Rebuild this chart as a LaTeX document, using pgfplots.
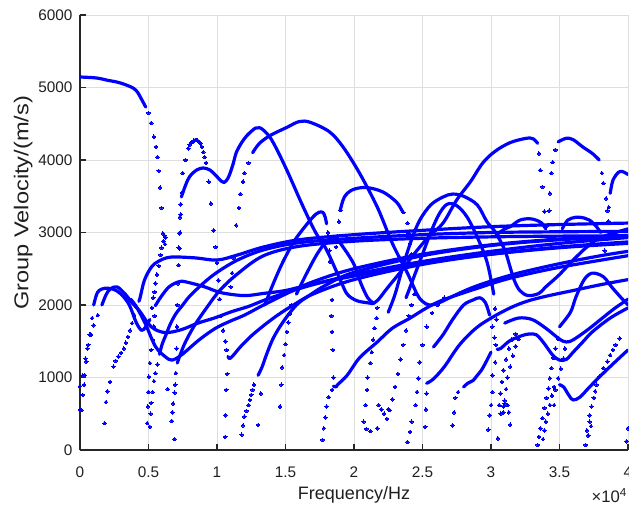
\documentclass[border=0pt]{standalone}
\usepackage{fontspec}
\setmainfont{Liberation Sans}
\newfontfamily\ylabfont[FakeStretch=1.18]{Liberation Sans}
\usepackage{pgfplots}
\pgfplotsset{compat=1.18}
\definecolor{mblue}{RGB}{0,0,255}
\pgfplotsset{
  ln/.style={no markers, color=mblue, line width=2.4pt, smooth, tension=0.55, line cap=round, line join=round},
  dt/.style={only marks, mark=*, mark size=1.35pt, color=mblue, mark options={line width=0pt, fill=mblue}},
}
\begin{document}
\begin{tikzpicture}
\begin{axis}[
  scale only axis, width=411pt, height=326.25pt,
  xmin=0, xmax=40000, ymin=0, ymax=6000,
  xtick={0,5000,10000,15000,20000,25000,30000,35000,40000},
  xticklabels={0,0.5,1,1.5,2,2.5,3,3.5,4},
  scaled x ticks=false,
  ytick={0,1000,2000,3000,4000,5000,6000},
  /pgf/number format/assume math mode=true,
  /pgf/number format/set thousands separator={},
  axis x line*=bottom, axis y line*=left,
  tick align=inside, major tick length=4.5pt,
  grid=major, grid style={line width=0.6pt, color=black!13},
  axis line style={line width=0.8pt, color=black!85},
  tick style={line width=0.8pt, color=black!85},
  tick label style={font=\fontsize{11.5}{13}\selectfont, text=black!88},
  xticklabel style={anchor=base, yshift=-20.5pt},
  yticklabel style={anchor=east, inner sep=0pt, xshift=-5.5pt},
  xlabel={Frequency/Hz},
  xlabel style={font=\fontsize{13.5}{16}\selectfont, text=black!88, at={(axis description cs:0.5,-0.1135)}, anchor=base},
  ylabel={Group Velocity/(m/s)},
  ylabel style={font=\ylabfont\fontsize{15}{18}\selectfont, text=black!88, at={(axis description cs:-0.0944,0.568)}, anchor=base},
]
% top mode
\addplot[ln] coordinates {(0,5145) (1000,5135) (1500,5122) (2000,5100) (2700,5075) (3300,5040) (3900,4990) (4200,4935) (4400,4870) (4600,4800) (4800,4730)};
\addplot[dt] coordinates {(5000,4650)(5200,4510)(5400,4320)(5550,4180)(5650,4040)(5750,3850)(5850,3620)(5950,3340)(6050,2990)(6150,2960)(6250,2930)(6100,2880)(6200,2840)(5950,2790)(5880,2690)(5750,2540)(5620,2420)(5500,2300)(5450,2180)};
% H1
\addplot[dt] coordinates {(100,550)(200,760)(300,900)(350,1030)(460,1220)(540,1400)(700,1590)(880,1820)(5250,1960)(5350,2100)};
\addplot[ln] coordinates {(1000,2000)(1200,2140)(1400,2200)(1800,2230)(2400,2220)(3000,2150)(3600,2000)(4100,1760)(4500,1650)(4800,1700)(5100,1800)};
% H2
\addplot[dt] coordinates {(0,880)(0,560)(200,1030)(400,1260)(600,1450)(800,1590)(1000,1720)(1300,1860)};
\addplot[ln] coordinates {(1600,2000)(1900,2140)(2200,2220)(2700,2250)(3300,2150)(3800,2030)(4300,1930)(5200,1700)(6200,1620)(7400,1660)(8600,1750)(9800,1820)(11100,1910)(12300,1980)(13500,2070)(14900,2160)(17000,2280)(20000,2420)(25000,2600)(30000,2740)(35000,2850)(40000,2930)};
% H3
\addplot[ln] coordinates {(3700,2080)(4100,1980)(4750,1750)(5500,1430)(6200,1290)(6700,1240)(7400,1310)(8700,1520)(9900,1680)(11000,1780)(12000,1860)(13400,2000)(15000,2150)(17000,2320)(20000,2500)(25000,2700)(30000,2830)(35000,2910)(40000,2960)};
% P1 left dots and B1
\addplot[dt] coordinates {(1800,370)(1900,660)(2000,810)(2200,940)(2450,1150)(2600,1230)(2800,1290)(3000,1340)(3200,1400)(3350,1480)(3500,1560)(3650,1650)(3800,1750)(3950,1860)(4100,1980)};
\addplot[ln] coordinates {(4300,2050)(4400,2110)(4700,2340)(5200,2520)(5700,2600)(6600,2660)(8400,2650)(10000,2620)(11500,2690)(13400,2800)(16000,2900)(20000,2970)(25000,3030)(30000,3080)(35000,3110)(40000,3130)};
% A2
\addplot[dt] coordinates {(4900,370)(4950,600)(5000,800)(5030,1010)(5100,1200)(5200,1380)(5300,1520)(5400,1700)(5450,1850)};
\addplot[ln] coordinates {(5500,1990)(5900,2110)(6500,2250)(7200,2320)(7700,2320)(9100,2250)(10300,2170)(12000,2130)(13400,2160)(15000,2200)(17000,2290)(20000,2400)(25000,2580)(30000,2700)(35000,2790)(40000,2850)};
% B3
\addplot[dt] coordinates {(5100,320)(5150,500)(5200,650)(5300,800)(5400,950)(5500,1060)(5650,1180)};
\addplot[ln] coordinates {(5800,1320)(6000,1460)(6300,1600)(6600,1740)(7000,1880)(7500,2000)(8000,2120)(9000,2300)(10000,2450)(11500,2620)(13400,2760)(16000,2860)(20000,2920)(25000,2970)(30000,3000)(35000,3010)(40000,3015)};
% B4
\addplot[dt] coordinates {(6400,840)(6700,400)(6750,520)(6800,640)(6900,790)(6950,900)(7000,1060)(6900,150)};
\addplot[ln] coordinates {(7100,1200)(7600,1450)(8300,1700)(9200,1950)(10200,2200)(11500,2430)(13400,2680)(16000,2810)(20000,2880)(25000,2920)(30000,2940)(35000,2950)(40000,2955)};
% 4300 arc (dotted)
\addplot[dt] coordinates {(7050,1400)(7080,1700)(7100,2000)(7150,2300)(7200,2550)(7250,2780)(7300,3000)(7350,3250)(7450,3550)(7500,3820)(7700,4000)(7900,4160)(8000,4210)(8100,4235)(8200,4250)(8300,4265)(8400,4275)(8500,4275)(8600,4265)(8700,4250)(8800,4230)(8900,4180)(9000,4110)(9100,4040)(9200,3960)(9400,3700)(9550,3400)(9750,3030)(9900,2800)(10000,2580)(10100,2340)(10200,2080)(10300,1850)(10450,1650)(10600,1500)(10700,1380)};
% 3900 / 4450 arc
\addplot[dt] coordinates {(7200,2790)(7250,2990)(7300,3210)(7350,3390)};
\addplot[ln] coordinates {(7400,3490)(7700,3650)(8000,3770)(8500,3860)(9000,3890)(9500,3860)(9900,3790)(10300,3710)(10500,3690)(10700,3720)(10900,3790)(11200,3960)(11400,4100)(11800,4240)(12200,4340)(12800,4440)(13100,4445)(13400,4410)(14000,4275)(15000,3900)(16300,3350)(17200,3000)(18000,2760)(19000,2345)(19500,2150)(20200,2060)(21000,2030)(21400,2020)};
% hook 1.09
\addplot[dt] coordinates {(10600,180)(10620,480)(10680,830)(10750,1050)};
\addplot[ln] coordinates {(10800,1290)(10900,1260)(11000,1270)(11300,1330)(11600,1400)(12100,1500)(12600,1590)(13500,1730)(14500,1870)(15500,1990)(17000,2150)(20000,2350)(25000,2560)(30000,2700)(35000,2800)(40000,2870)};
% L 1.17
\addplot[dt] coordinates {(11800,210)(11900,340)(12000,460)(12150,540)(12300,620)(12400,690)(12500,760)(12600,830)(12700,900)(13000,345)(13200,780)};
\addplot[ln] coordinates {(13000,1030)(13300,1150)(13600,1310)(14100,1540)(14800,1760)(15800,2000)(16800,2140)(18000,2280)(20000,2450)(25000,2680)(30000,2820)(35000,2900)(40000,2940)};
% 4550 arc
\addplot[dt] coordinates {(11000,2250)(11100,2440)(11200,2650)(11400,3100)(11600,3340)(11700,3530)(11900,3700)(12000,3820)(12300,3960)};
\addplot[ln] coordinates {(12600,4100)(13100,4230)(13900,4340)(15100,4450)(16000,4530)(16800,4520)(18200,4390)(19200,4180)(20400,3820)(21700,3350)(22800,2850)(23900,2440)(24600,2150)(25000,2050)(25500,2000)(26200,2030)(27200,2120)(28500,2230)(30000,2330)(32000,2440)(35000,2570)(38000,2680)(40000,2740)};
% arc 3600
\addplot[dt] coordinates {(18700,2800)(18800,2950)(18900,3150)(19000,3310)(23600,3280)(23900,3130)(24000,2990)(24100,2850)(24200,2700)};
\addplot[ln] coordinates {(19000,3310)(19300,3490)(19900,3590)(20900,3620)(22100,3560)(23100,3420)(23500,3300)};
% arc 3300
\addplot[ln] coordinates {(13500,2000)(13900,2200)(14700,2550)(15600,2870)(16500,3100)(17200,3250)(17600,3285)(17800,3260)(17900,3210)(18000,3120)};
\addplot[dt] coordinates {(18100,3000)(18150,2880)(18200,2750)(18250,2600)};
% arc 2950
\addplot[dt] coordinates {(14600,600)(14700,900)(14750,1140)(14900,1310)(15000,1460)(15100,1630)(15200,1760)(15300,1880)(15450,2000)};
\addplot[ln] coordinates {(15800,2150)(16500,2420)(17300,2700)(18000,2880)(18600,2930)(19200,2800)(20000,2560)(20500,2300)(21000,2100)(21400,2030)};
% V right arm -> 4300 arc at 3.3
\addplot[ln] coordinates {(21400,2020)(21800,2080)(22500,2250)(23500,2480)(24500,2730)(25500,2950)(26500,3130)(27500,3450)(28500,3700)(29400,3960)(30300,4120)(31400,4240)(32600,4300)(33100,4290)(33400,4230)};
\addplot[dt] coordinates {(33500,4090)(33600,3860)(33750,3630)(33900,3290)(34000,3075)(34100,2900)};
% branch 2.1 and zigzag
\addplot[dt] coordinates {(20700,390)(20850,620)(20950,830)(21000,1000)(21200,1200)(21300,1350)(21400,1520)(21500,1680)(21650,1820)(21700,1960)(21800,620)(22000,560)(22200,500)(22400,430)(22500,560)(21700,300)(21200,260)(20900,290)};
% branch 1.77 and L 1.86
\addplot[dt] coordinates {(17700,140)(17800,300)(17900,450)(18000,600)(18150,730)(18400,830)(18500,1000)(18450,1380)(18400,1630)(18350,1850)(18400,2070)};
\addplot[ln] coordinates {(18500,880)(18700,870)(18800,900)(19500,1030)(20400,1270)(21700,1490)(22800,1680)(24100,1820)(25300,1960)(26500,2070)(29000,2230)(31400,2370)(35000,2520)(40000,2680)};
% branches 2.26, 2.39, 2.52
\addplot[dt] coordinates {(22600,550)(22800,700)(23000,870)(23200,1050)(23400,1250)(23600,1450)(23800,1650)(24000,1850)(24200,2000)(24400,2150)};
\addplot[dt] coordinates {(23900,110)(24100,250)(24200,390)(24500,620)(24600,800)(24700,990)(24800,1210)(25000,1450)(25300,1700)(25700,1890)(26100,2000)(26600,2100)};
\addplot[dt] coordinates {(25200,320)(25250,560)(25300,780)};
\addplot[ln] coordinates {(25300,920)(25800,980)(26600,1150)(27700,1450)(28900,1680)(30100,1830)(31400,1960)(32600,2050)(34000,2120)(36000,2200)(38000,2280)(40000,2350)};
% L 2.72
\addplot[dt] coordinates {(27200,340)(27300,520)(27400,720)(27600,800)};
\addplot[ln] coordinates {(28000,870)(28300,920)(28700,960)(29000,1030)(29300,1100)(29600,1200)(30000,1350)};
% R1, R2
\addplot[ln] coordinates {(25800,1420)(26500,1590)(27200,1800)(28000,2000)(28700,2070)(29200,2100)(29600,2030)(29900,1860)};
\addplot[dt] coordinates {(30100,1700)(30250,1550)(30350,1450)};
\addplot[ln] coordinates {(30450,1390)(30700,1400)(31400,1510)(32300,1580)(32800,1600)(33300,1590)(33800,1490)(34500,1310)(35000,1240)(35500,1250)(36000,1350)(36700,1490)(37400,1630)(38700,1820)(40000,1960)};
% arcs 3530 and 3400
\addplot[ln] coordinates {(22500,1900)(23000,2150)(23600,2550)(24200,2900)(24800,3170)(25600,3380)(26500,3490)(27200,3530)(28000,3500)(29000,3380)(29700,3150)(30300,3010)(31000,2760)(31400,2520)(31700,2340)(32100,2200)(32700,2130)(33500,2160)(34000,2250)(35000,2420)(36000,2620)(37000,2800)(38000,2930)(40000,3050)};
\addplot[ln] coordinates {(23800,2100)(24400,2400)(25000,2700)(25600,3000)(26200,3250)(26800,3390)(27500,3370)(28300,3200)(29200,2850)(29700,2600)(30000,2350)(30200,2150)};
\addplot[dt] coordinates {(30300,1950)(30400,1800)};
% bumps
\addplot[ln] coordinates {(30500,2980)(31000,3050)(31400,3080)(32100,3170)(32800,3190)(33300,3170)(33700,3130)(34000,3050)};
\addplot[ln] coordinates {(35200,3050)(35600,3170)(36200,3210)(36800,3200)(37200,3170)(37700,3080)(38000,3000)};
% right 4300 arc
\addplot[dt] coordinates {(34150,3100)(34250,3300)(34300,3540)(34400,3820)(34500,3970)(34700,4140)(38100,3820)(38200,3680)(38400,3470)(38500,3300)(38600,3150)};
\addplot[ln] coordinates {(34900,4250)(35500,4300)(36000,4280)(36700,4180)(37400,4090)(37900,4000)};
% 3800 arc
\addplot[dt] coordinates {(38300,2750)(38450,2950)(38550,3150)(38600,3350)};
\addplot[ln] coordinates {(38700,3540)(38900,3720)(39300,3830)(39600,3840)(40000,3800)};
% arc 3.74, R3, R4
\addplot[ln] coordinates {(35000,1700)(35800,1900)(36200,2110)(36800,2350)(37400,2440)(38200,2390)(38800,2250)(39500,2100)(40000,2000)};
\addplot[dt] coordinates {(34600,620)(34700,830)};
\addplot[ln] coordinates {(35000,900)(35300,870)(35700,750)(36000,690)(36500,730)(37200,870)(38200,1060)(39200,1240)(40000,1380)};
\addplot[ln] coordinates {(31000,1750)(32000,1820)(33000,1800)(34000,1680)(35000,1530)(35500,1490)(36000,1520)(37000,1650)(38000,1800)(39000,1950)(40000,2080)};
% lower right dotted branches
\addplot[dt] coordinates {(30600,620)(30700,780)(30800,940)(30900,1100)(31100,1250)(31300,1400)(31500,1520)(31800,1600)};
\addplot[dt] coordinates {(30900,520)(31000,680)(31100,840)(31200,1000)(31400,1150)(31600,1300)(31800,1430)(32000,1530)};
\addplot[dt] coordinates {(29800,280)(29900,480)(30000,620)(30100,800)(30100,1030)(30300,1210)(30700,500)(30900,600)(31000,640)(31200,620)(31300,520)(31400,350)(30500,160)};
\addplot[dt] coordinates {(33400,70)(33500,180)(33600,300)(33750,440)(33900,580)(34050,720)(34200,850)(34300,990)(34400,1130)(34550,1270)(34700,1400)(34900,1540)};
\addplot[dt] coordinates {(33800,150)(33900,270)(34000,390)(34150,500)(34300,620)(34450,750)(34600,870)(34900,990)(35100,1120)(35300,1260)(35400,1400)};
\addplot[dt] coordinates {(36900,70)(37000,270)(37200,390)(37200,480)(37350,600)(37500,720)(37600,810)(37700,900)(37900,1010)(38200,1130)(38500,1220)(38700,1310)(38900,1380)(39100,1450)(39400,1540)(37100,200)(37300,330)(39900,120)(40000,300)};
\end{axis}
\node[anchor=base east, inner sep=0pt, font=\fontsize{12.5}{14}\selectfont, text=black!88] at (410.5pt,-39pt) {×10\textsuperscript{4}};
\pgfresetboundingbox
\path[use as bounding box] (-60pt,-40.5pt) rectangle (411.75pt,337.5pt);
\end{tikzpicture}
\end{document}
